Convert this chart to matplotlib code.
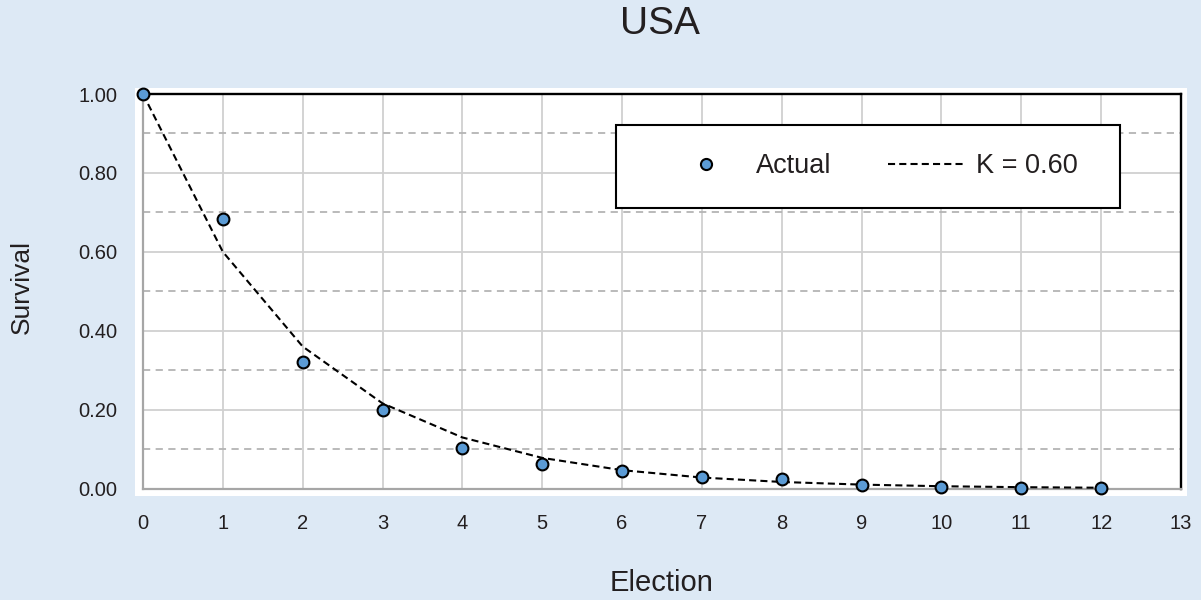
import matplotlib
matplotlib.use("Agg")
import matplotlib.pyplot as plt
from matplotlib.patches import Rectangle
from matplotlib.lines import Line2D

# Survival after each election
elections = [0, 1, 2, 3, 4, 5, 6, 7, 8, 9, 10, 11, 12]
actual = [1.00, 0.684, 0.32, 0.20, 0.104, 0.062, 0.045, 0.030, 0.024, 0.009, 0.003, 0.002, 0.001]
# Geometric decay curve with K = 0.60
model = [1.00, 0.60, 0.36, 0.216, 0.1296, 0.0778, 0.0467, 0.0280, 0.0168, 0.0101, 0.0060, 0.0036, 0.0022]

title = "USA"
x_label = "Election"
y_label = "Survival"
x_ticks = list(range(0, 14))
y_ticks = [0.0, 0.2, 0.4, 0.6, 0.8, 1.0]
y_minor = [0.1, 0.3, 0.5, 0.7, 0.9]
legend_labels = ["Actual", "K = 0.60"]

BG = "#dde9f5"
TXT = "#231f20"
BLUE = "#5b9bd5"
FONT = ["Liberation Sans", "DejaVu Sans"]

plt.rcParams["font.family"] = FONT

fig = plt.figure(figsize=(12.01, 6.0), dpi=100, facecolor=BG)

# white plotting panel slightly larger than the axes
fig.add_artist(Rectangle((135 / 1201, 104 / 600), 1052 / 1201, 408 / 600,
                         transform=fig.transFigure, facecolor="white",
                         edgecolor="none", zorder=0))

ax = fig.add_axes([143 / 1201, 111.4 / 600, 1038 / 1201, 394.6 / 600])
ax.set_facecolor("white")
ax.set_xlim(0, 13)
ax.set_ylim(0, 1.0)

ax.set_xticks(x_ticks)
ax.set_xticklabels([str(t) for t in x_ticks])
ax.set_yticks(y_ticks)
ax.set_yticklabels([f"{t:.2f}" for t in y_ticks])
ax.set_yticks(y_minor, minor=True)
ax.tick_params(axis="both", which="both", length=0, pad=18.5,
               labelsize=14.5, labelcolor=TXT)

ax.grid(True, which="major", axis="both", color="#d0d0d0", linewidth=1.3, zorder=1)
ax.grid(True, which="minor", axis="y", color="#b4b4b4", linewidth=1.3,
        linestyle=(0, (4.0, 3.0)), zorder=1)
ax.set_axisbelow(True)

for side in ("left", "bottom"):
    ax.spines[side].set_color("#a6a6a6")
    ax.spines[side].set_linewidth(1.6)
for side in ("top", "right"):
    ax.spines[side].set_color("black")
    ax.spines[side].set_linewidth(1.7)

dash = (0, (3.4, 2.0))
ax.plot(elections, model, color="black", linewidth=1.5, linestyle=dash,
        zorder=3, clip_on=False)
ax.plot(elections, actual, linestyle="none", marker="o", markersize=8.5,
        markerfacecolor=BLUE, markeredgecolor="black", markeredgewidth=1.5,
        zorder=4, clip_on=False)

# legend frame
ax.add_patch(Rectangle(((616 - 143) / 1038, (488.6 - 208) / 394.6),
                       (1120 - 616) / 1038, (208 - 125) / 394.6,
                       transform=ax.transAxes, facecolor="white",
                       edgecolor="black", linewidth=1.5, zorder=5))

h_actual = Line2D([], [], linestyle="none", marker="o", markersize=8,
                  markerfacecolor=BLUE, markeredgecolor="black", markeredgewidth=1.5)
h_model = Line2D([], [], color="black", linewidth=1.5, linestyle=dash)

leg = ax.legend([h_actual, h_model], legend_labels, ncol=2, frameon=False,
                loc="center left",
                bbox_to_anchor=((668 - 143) / 1038, (488.6 - 166) / 394.6),
                borderpad=0, borderaxespad=0, handlelength=2.8,
                handletextpad=0.44, columnspacing=2.1, numpoints=1,
                fontsize=19.5, labelcolor=TXT)
leg.set_zorder(6)

fig.text(660 / 1201, 1 - 24 / 600, title, ha="center", va="center",
         fontsize=28, color=TXT)
fig.text(662 / 1201, 1 - 583 / 600, x_label, ha="center", va="center",
         fontsize=21, color=TXT)
fig.text(22 / 1201, 1 - 287 / 600, y_label, ha="center", va="center",
         rotation=90, fontsize=19, color=TXT)

fig.savefig("out.png", dpi=100, facecolor=BG)
